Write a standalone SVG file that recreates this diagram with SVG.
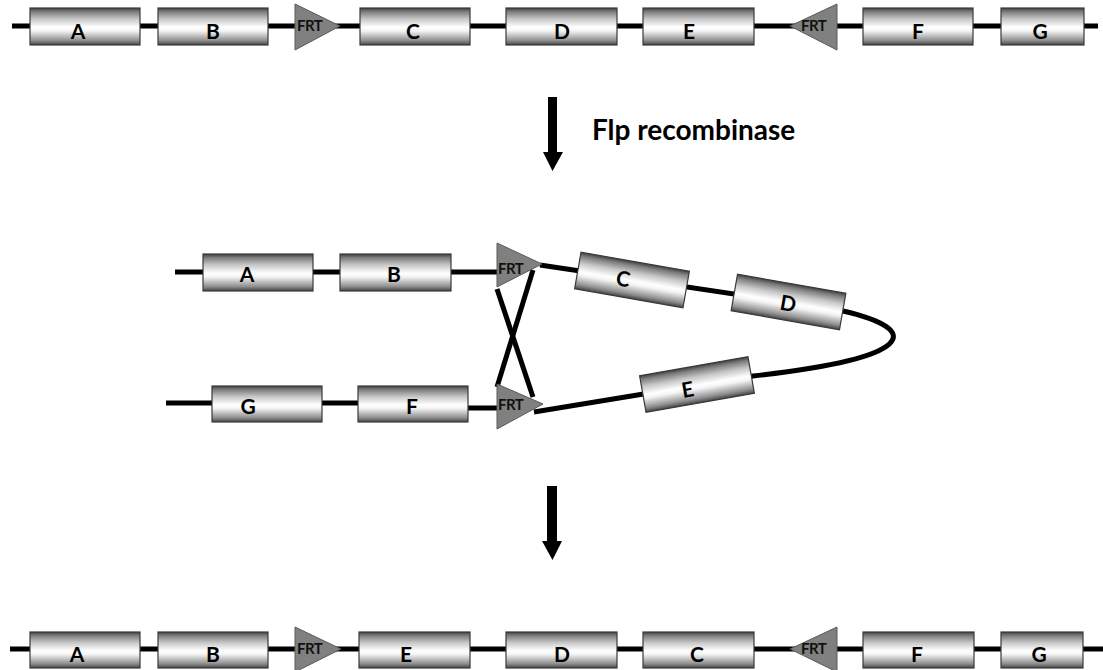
<svg xmlns="http://www.w3.org/2000/svg" width="1103" height="670" viewBox="0 0 1103 670">
<defs>
<linearGradient id="cyl" x1="0" y1="0" x2="0" y2="1">
<stop offset="0" stop-color="#404040"/>
<stop offset="0.1" stop-color="#7c7c7c"/>
<stop offset="0.3" stop-color="#c8c8c8"/>
<stop offset="0.52" stop-color="#ffffff"/>
<stop offset="0.62" stop-color="#f4f4f4"/>
<stop offset="0.88" stop-color="#8e8e8e"/>
<stop offset="1" stop-color="#454545"/>
</linearGradient>
</defs>
<style>
.box{fill:url(#cyl);stroke:#3a3a3a;stroke-width:1.2}
.lbl{font-family:Lato,"Open Sans","Liberation Sans",sans-serif;font-weight:bold;font-size:21px;fill:#000;text-anchor:middle}
.frt{fill:#808080;stroke:#5a5a5a;stroke-width:1}
.frtt{font-family:Lato,"Liberation Sans",sans-serif;font-weight:bold;font-size:15px;letter-spacing:-0.5px;fill:#111}
.dna{stroke:#000;stroke-width:5;fill:none}
.arr{fill:#000}
.title{font-family:Lato,"Open Sans","Liberation Sans",sans-serif;font-weight:bold;font-size:28px;fill:#000}
</style>
<rect width="1103" height="670" fill="#fff"/>
<g id="connectors">
<line class="dna" x1="12" y1="26" x2="1098" y2="26"/>
<line class="dna" x1="10" y1="649" x2="1103" y2="649"/>
<line class="dna" x1="175" y1="272" x2="497" y2="272"/>
<line class="dna" x1="166" y1="403" x2="358" y2="403"/>
<line class="dna" x1="466" y1="408" x2="498" y2="408"/>
<path class="dna" d="M540,265 L788,302 L843,311 C925,330 915,358 753,376 L534,412" stroke-width="4"/>
<line class="dna" x1="497" y1="289" x2="533" y2="397"/>
<line class="dna" x1="533" y1="270" x2="497" y2="387"/>
</g>
<g id="arrow1"><polygon class="arr" points="548,97 557,97 557,152 563,152 552.5,171 543,152 548,152"/></g>
<g id="label-flp"><text class="title" x="592" y="140">Flp recombinase</text></g>
<g id="arrow2"><polygon class="arr" points="547,486 557,486 557,541 562,541 552.5,560 542,541 547,541"/></g>

<!-- top row -->
<g id="top-A"><rect class="box" x="30" y="8" width="110" height="37"/><text class="lbl" x="78" y="39">A</text></g>
<g id="top-B"><rect class="box" x="158" y="8" width="110" height="37"/><text class="lbl" x="213" y="39">B</text></g>
<g id="top-FRT1"><polygon class="frt" points="295,4 340,26 295,50"/><text class="frtt" x="297" y="31">FRT</text></g>
<g id="top-C"><rect class="box" x="360" y="8" width="110" height="37"/><text class="lbl" x="413" y="39">C</text></g>
<g id="top-D"><rect class="box" x="506" y="8" width="111" height="37"/><text class="lbl" x="562" y="39">D</text></g>
<g id="top-E"><rect class="box" x="643" y="8" width="111" height="37"/><text class="lbl" x="689" y="39">E</text></g>
<g id="top-FRT2"><polygon class="frt" points="837,4 790,26 837,50"/><text class="frtt" x="801" y="31">FRT</text></g>
<g id="top-F"><rect class="box" x="863" y="8" width="110" height="37"/><text class="lbl" x="918" y="39">F</text></g>
<g id="top-G"><rect class="box" x="1001" y="8" width="83" height="37"/><text class="lbl" x="1040" y="39">G</text></g>

<!-- middle -->
<g id="mid-A"><rect class="box" x="203" y="254" width="110" height="37"/><text class="lbl" x="247" y="282">A</text></g>
<g id="mid-B"><rect class="box" x="340" y="254" width="111" height="37"/><text class="lbl" x="394" y="282">B</text></g>
<g id="mid-FRT1"><polygon class="frt" points="497,243 542,264 497,287"/><text class="frtt" x="498" y="274">FRT</text></g>
<g id="mid-G"><rect class="box" x="212" y="386" width="110" height="36"/><text class="lbl" x="248" y="414">G</text></g>
<g id="mid-F"><rect class="box" x="358" y="386" width="110" height="36"/><text class="lbl" x="412" y="414">F</text></g>
<g id="mid-FRT2"><polygon class="frt" points="497,384 543,404 497,429"/><text class="frtt" x="498" y="410">FRT</text></g>
<g id="mid-C" transform="translate(632,280) rotate(10)"><rect class="box" x="-55" y="-18.5" width="110" height="37"/><text class="lbl" x="-9" y="8">C</text></g>
<g id="mid-D" transform="translate(788.5,302) rotate(10)"><rect class="box" x="-55" y="-18.5" width="110" height="37"/><text class="lbl" x="0" y="9">D</text></g>
<g id="mid-E" transform="translate(697,384.5) rotate(-10)"><rect class="box" x="-55" y="-18.5" width="110" height="37"/><text class="lbl" x="-10" y="11">E</text></g>

<!-- bottom row -->
<g id="bot-A"><rect class="box" x="30" y="632" width="110" height="36"/><text class="lbl" x="77" y="662">A</text></g>
<g id="bot-B"><rect class="box" x="158" y="632" width="110" height="36"/><text class="lbl" x="213" y="662">B</text></g>
<g id="bot-FRT1"><polygon class="frt" points="295,627 341,649 295,672"/><text class="frtt" x="297" y="654">FRT</text></g>
<g id="bot-E"><rect class="box" x="359" y="632" width="111" height="36"/><text class="lbl" x="406" y="662">E</text></g>
<g id="bot-D"><rect class="box" x="506" y="632" width="111" height="36"/><text class="lbl" x="562" y="662">D</text></g>
<g id="bot-C"><rect class="box" x="643" y="632" width="111" height="36"/><text class="lbl" x="697" y="662">C</text></g>
<g id="bot-FRT2"><polygon class="frt" points="837,627 790,649 837,672"/><text class="frtt" x="801" y="654">FRT</text></g>
<g id="bot-F"><rect class="box" x="863" y="632" width="111" height="36"/><text class="lbl" x="917" y="662">F</text></g>
<g id="bot-G"><rect class="box" x="1001" y="632" width="82" height="36"/><text class="lbl" x="1039" y="662">G</text></g>
</svg>
